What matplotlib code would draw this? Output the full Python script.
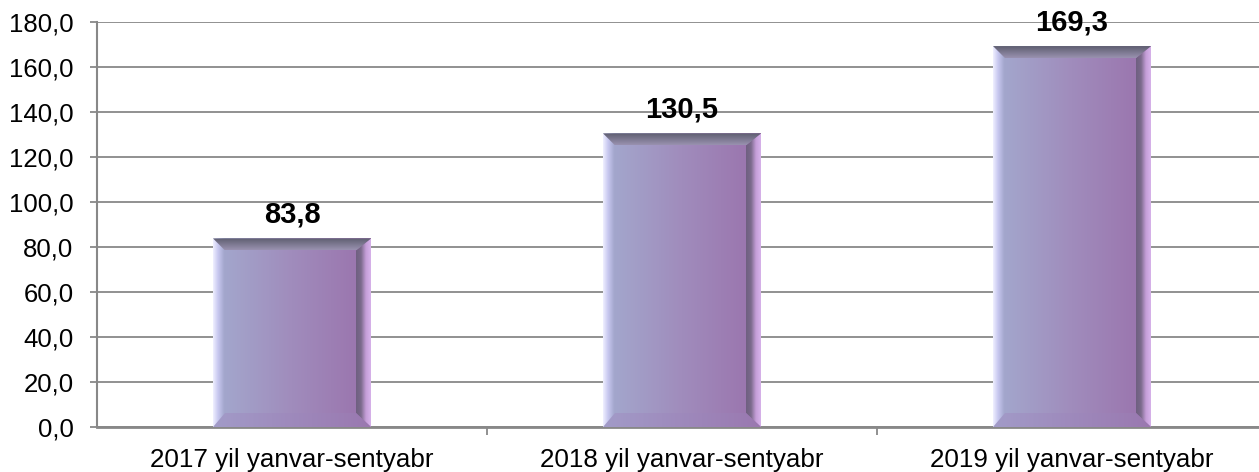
import matplotlib
matplotlib.use("Agg")
import matplotlib.pyplot as plt
from matplotlib.patches import Polygon
from matplotlib.colors import LinearSegmentedColormap
import numpy as np

plt.rcParams['font.family'] = ['Liberation Sans', 'DejaVu Sans']

categories = ["2017 yil yanvar-sentyabr", "2018 yil yanvar-sentyabr", "2019 yil yanvar-sentyabr"]
values = [83.8, 130.5, 169.3]
y_ticks = [0, 20, 40, 60, 80, 100, 120, 140, 160, 180]

W, H, DPI = 1259, 472, 100
AX_L, AX_R, AX_T, AX_B = 97, 1267, 22, 427
fig = plt.figure(figsize=(W / DPI, H / DPI), dpi=DPI)
ax = fig.add_axes([AX_L / W, 1 - AX_B / H, (AX_R - AX_L) / W, (AX_B - AX_T) / H])

ax.set_xlim(-0.5, 2.5)
ax.set_ylim(0, 180)
ax.set_yticks(y_ticks)
ax.set_yticklabels([f"{t:.1f}".replace(".", ",") for t in y_ticks], fontsize=18.5)
ax.set_xticks([0.5, 1.5])
ax.set_xticklabels([])
ax.tick_params(axis='y', length=5, color='#888888', width=1.3, pad=12)
ax.tick_params(axis='x', length=6, color='#888888', width=1.3)
for i, c in enumerate(categories):
    ax.annotate(c, (i, 0), xycoords=('data', 'axes fraction'), xytext=(0, -15),
                textcoords='offset points', ha='center', va='top', fontsize=18.7)
ax.grid(axis='y', color='#888888', linewidth=1.3)
ax.set_axisbelow(True)
for s in ['top', 'right']:
    ax.spines[s].set_visible(False)
ax.spines['left'].set_color('#888888')
ax.spines['bottom'].set_color('#888888')
ax.spines['left'].set_linewidth(1.5)
ax.spines['bottom'].set_linewidth(2)

face_cmap = LinearSegmentedColormap.from_list(
    'face', [(0.0, '#eeeeff'), (0.03, '#c8c8f0'), (0.07, '#a3a6cc'), (0.5, '#a08cbc'), (1.0, '#9a72ac')])
top_cmap = LinearSegmentedColormap.from_list('top', ['#9a92b0', '#5e5e70'])
right_cmap = LinearSegmentedColormap.from_list('right', ['#6f5f80', '#7b6a8c', '#c59ed8', '#d8b4ec'])
bottom_cmap = LinearSegmentedColormap.from_list('bot', ['#a29bc8', '#9a78b0'])

bars = ax.bar(range(len(values)), values, width=0.405, color='none', zorder=2)

# pixel size in data units
px_x = 3.0 / (AX_R - AX_L)
px_y = 180.0 / (AX_B - AX_T)
bl, br, bt, bb = 12 * px_x, 15 * px_x, 12 * px_y, 14 * px_y


def grad_fill(poly_pts, cmap, horizontal=True, z=3):
    poly = Polygon(poly_pts, closed=True, facecolor='none', edgecolor='none', zorder=z)
    ax.add_patch(poly)
    xs = [p[0] for p in poly_pts]
    ys = [p[1] for p in poly_pts]
    g = np.linspace(0, 1, 256)
    img = g.reshape(1, -1) if horizontal else g.reshape(-1, 1)
    im = ax.imshow(img, cmap=cmap, extent=[min(xs), max(xs), min(ys), max(ys)],
                   origin='lower', aspect='auto', zorder=z, interpolation='bilinear')
    im.set_clip_path(poly)


for b, v in zip(bars, values):
    x0 = b.get_x()
    x1 = x0 + b.get_width()
    h = b.get_height()
    # main face
    grad_fill([(x0, 0), (x1, 0), (x1, h), (x0, h)], face_cmap, True, 3)
    # right bevel
    grad_fill([(x1 - br, bb), (x1, 0), (x1, h), (x1 - br, h - bt)], right_cmap, True, 4)
    # bottom bevel
    grad_fill([(x0, 0), (x1, 0), (x1 - br, bb), (x0 + bl, bb)], bottom_cmap, True, 4)
    # top bevel
    grad_fill([(x0, h), (x1, h), (x1 - br, h - bt), (x0 + bl, h - bt)], top_cmap, False, 5)
    ax.annotate(f"{v:.1f}".replace(".", ","), (b.get_x() + b.get_width() / 2, h),
                xytext=(0, 11.5), textcoords='offset points', ha='center', va='baseline',
                fontsize=21, fontweight='bold', zorder=6)

ax.set_xlim(-0.5, 2.5)
ax.set_ylim(0, 180)
fig.savefig("out.png", dpi=DPI)
